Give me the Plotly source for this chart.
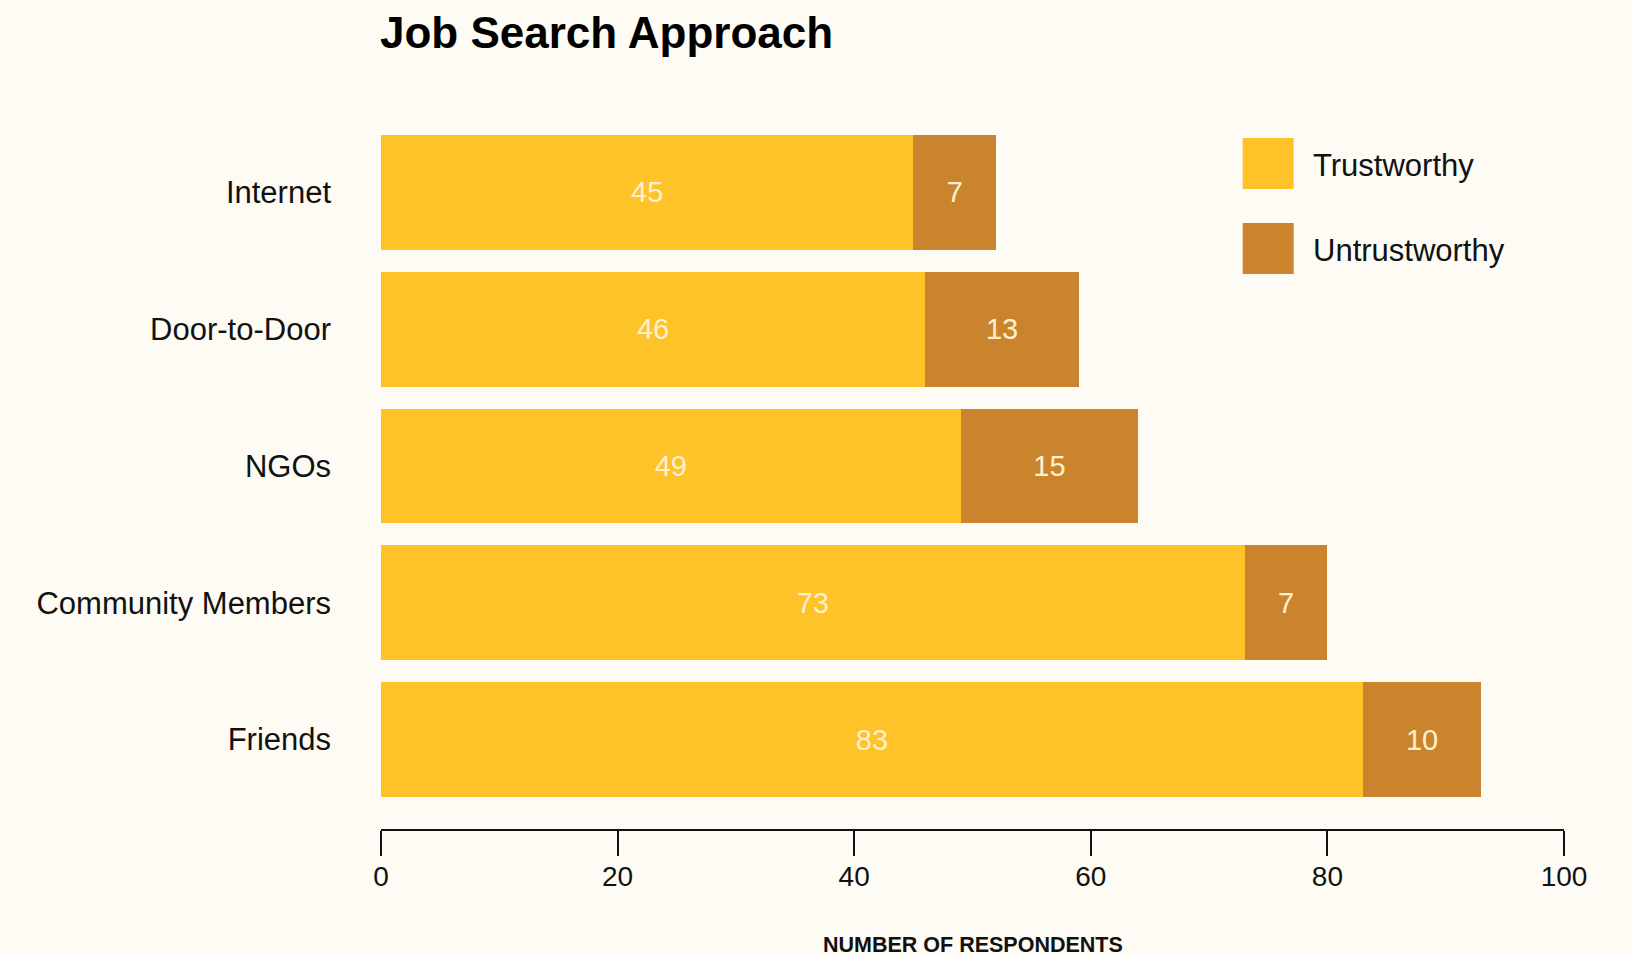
import plotly.graph_objects as go

categories = ["Friends", "Community Members", "NGOs", "Door-to-Door", "Internet"]
trustworthy = [83, 73, 49, 46, 45]
untrustworthy = [10, 7, 15, 13, 7]
x_ticks = [0, 20, 40, 60, 80, 100]

C_TRUST = "#fdc328"
C_UNTRUST = "#cb842e"
BG = "#fdfbf3"
LABEL = "#fdf0cf"
FONT = "Liberation Sans, Arial, sans-serif"

fig = go.Figure()
fig.add_trace(go.Bar(
    y=categories, x=trustworthy, orientation="h", name="Trustworthy",
    marker=dict(color=C_TRUST, line=dict(width=0)),
    text=[str(v) for v in trustworthy], textposition="inside",
    insidetextanchor="middle", textangle=0,
    textfont=dict(color=LABEL, size=29, family=FONT),
    showlegend=False,
))
fig.add_trace(go.Bar(
    y=categories, x=untrustworthy, orientation="h", name="Untrustworthy",
    marker=dict(color=C_UNTRUST, line=dict(width=0)),
    text=[str(v) for v in untrustworthy], textposition="inside",
    insidetextanchor="middle", textangle=0,
    textfont=dict(color=LABEL, size=29, family=FONT),
    showlegend=False,
))

# legend drawn manually (large swatches)
legend_items = [("Trustworthy", C_TRUST, 138), ("Untrustworthy", C_UNTRUST, 223)]
shapes = []
annotations = []
plot_top, plot_h = 124, 705
for name, col, ytop in legend_items:
    y0 = 1 - (ytop + 51 - plot_top) / plot_h
    y1 = 1 - (ytop - plot_top) / plot_h
    shapes.append(dict(type="rect", xref="x", yref="paper",
                       x0=72.84, x1=77.15, y0=y0, y1=y1,
                       fillcolor=col, line=dict(width=0)))
    annotations.append(dict(text=name, xref="x", yref="paper",
                            x=78.65, y=(y0 + y1) / 2 - 2 / plot_h, xanchor="left", yanchor="middle",
                            showarrow=False, font=dict(size=31, color="#111", family=FONT)))

annotations.append(dict(text="<b>NUMBER OF RESPONDENTS</b>", xref="paper", yref="paper",
                        x=0.5, y=-(945 - 829) / 705, xanchor="center", yanchor="middle",
                        showarrow=False, font=dict(size=21.5, color="#111", family=FONT)))

fig.update_layout(
    barmode="stack",
    bargap=0.16,
    width=1632, height=956,
    paper_bgcolor=BG, plot_bgcolor=BG,
    margin=dict(l=381, r=68, t=124, b=127),
    title=dict(text="<b>Job Search Approach</b>", x=380 / 1632, xref="container", xanchor="left",
               y=1 - 33 / 956, yref="container", yanchor="middle",
               font=dict(size=44, color="#000", family=FONT)),
    xaxis=dict(range=[0, 100], tickvals=x_ticks, ticktext=[str(t) for t in x_ticks],
               showgrid=False, zeroline=False, showline=True, linecolor="#111", linewidth=2,
               ticks="outside", ticklen=25, tickwidth=1.5, tickcolor="#111",
               ticklabelstandoff=-4,
               tickfont=dict(size=28, color="#111", family=FONT), fixedrange=True),
    yaxis=dict(categoryorder="array", categoryarray=categories, range=[-0.654, 4.5],
               showgrid=False, zeroline=False, showline=False, ticks="",
               ticklabelstandoff=49,
               tickfont=dict(size=31, color="#111", family=FONT), fixedrange=True),
    shapes=shapes, annotations=annotations,
)

fig.write_html("out.html", config={"displayModeBar": False},
               post_script="document.body.style.margin='0';document.body.style.overflow='hidden';")
